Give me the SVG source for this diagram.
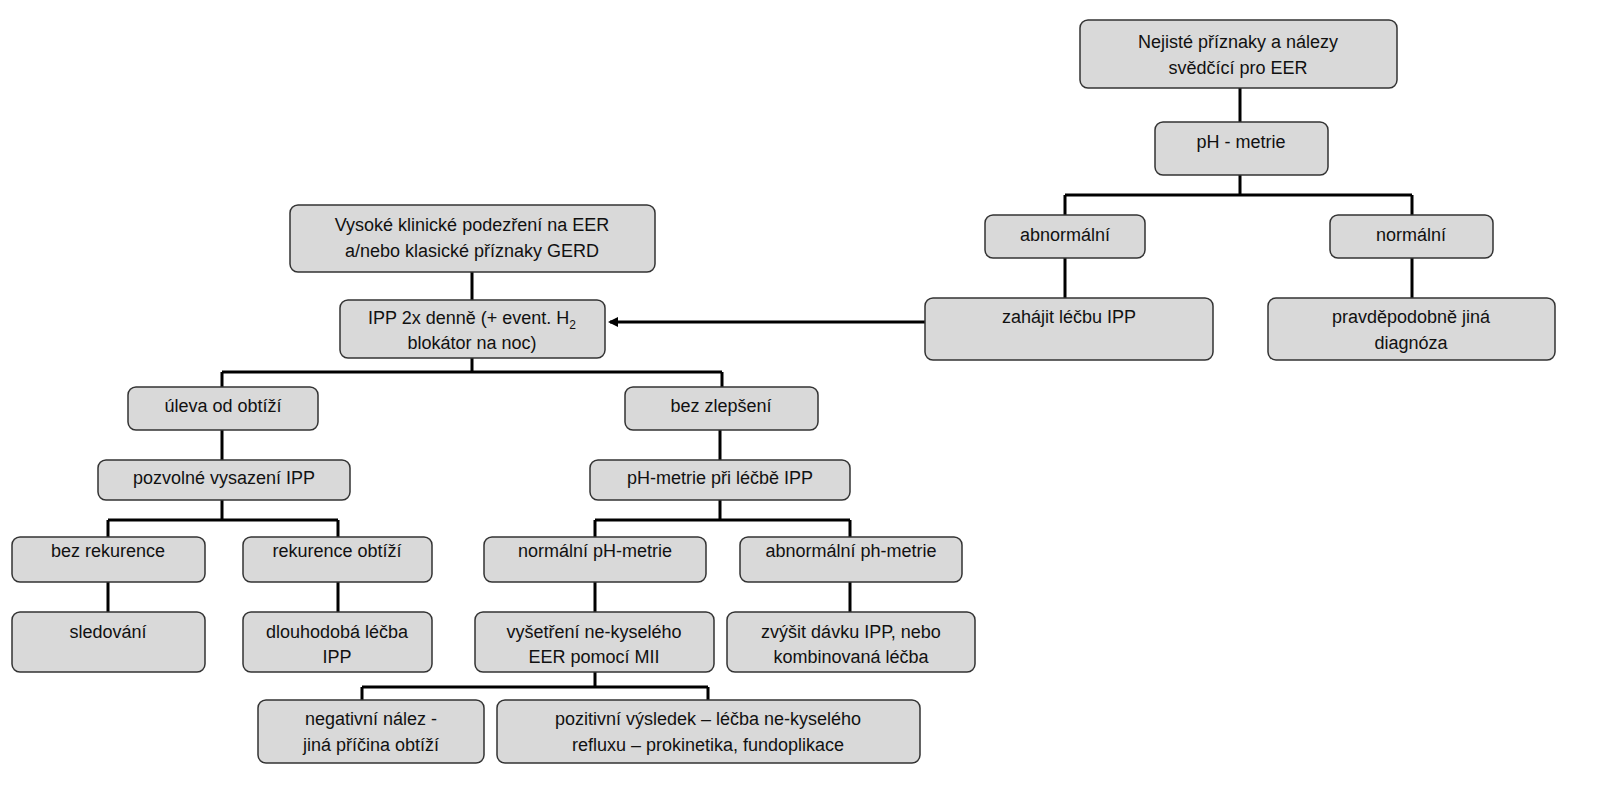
<svg xmlns="http://www.w3.org/2000/svg" width="1600" height="800" viewBox="0 0 1600 800">
<style>
.n rect{fill:#d9d9d9;stroke:#333;stroke-width:1.5}
.n text{font-family:"Liberation Sans",Arial,sans-serif;font-size:18px;fill:#111;text-anchor:middle}
.c path{fill:none;stroke:#000;stroke-width:3}
</style>
<defs><marker id="ah" markerWidth="10" markerHeight="10" refX="8" refY="5" orient="auto" markerUnits="userSpaceOnUse"><path d="M0,0 L10,5 L0,10 z" fill="#000"/></marker></defs>
<rect width="1600" height="800" fill="#fff"/>
<g class="c">
<path d="M1240,88V122M1240,175V195M1065,195H1412M1065,195V215M1412,195V215M1065,258V298M1412,258V298"/>
<path d="M925,322H610" marker-end="url(#ah)"/>
<path d="M472,272V300M472,358V372M222,372H722M222,372V387M722,372V387M222,430V460M720,430V460"/>
<path d="M222,500V520M108,520H338M108,520V537M338,520V537M720,500V520M595,520H850M595,520V537M850,520V537"/>
<path d="M108,582V612M338,582V612M595,582V612M850,582V612M595,672V687M362,687H708M362,687V700M708,687V700"/>
</g>
<g id="n1" class="n"><rect x="1080" y="20" width="317" height="68" rx="8"/><text x="1238" y="48">Nejisté příznaky a nálezy</text><text x="1238" y="74">svědčící pro EER</text></g>
<g id="n2" class="n"><rect x="1155" y="122" width="173" height="53" rx="8"/><text x="1241" y="148">pH - metrie</text></g>
<g id="n3" class="n"><rect x="985" y="215" width="160" height="43" rx="8"/><text x="1065" y="241">abnormální</text></g>
<g id="n4" class="n"><rect x="1330" y="215" width="163" height="43" rx="8"/><text x="1411" y="241">normální</text></g>
<g id="n5" class="n"><rect x="925" y="298" width="288" height="62" rx="8"/><text x="1069" y="323">zahájit léčbu IPP</text></g>
<g id="n6" class="n"><rect x="1268" y="298" width="287" height="62" rx="8"/><text x="1411" y="323">pravděpodobně jiná</text><text x="1411" y="349">diagnóza</text></g>
<g id="n7" class="n"><rect x="290" y="205" width="365" height="67" rx="8"/><text x="472" y="231">Vysoké klinické podezření na EER</text><text x="472" y="257">a/nebo klasické příznaky GERD</text></g>
<g id="n8" class="n"><rect x="340" y="300" width="265" height="58" rx="8"/><text x="472" y="324">IPP 2x denně (+ event. H<tspan font-size="12" dy="5">2</tspan></text><text x="472" y="349">blokátor na noc)</text></g>
<g id="n9" class="n"><rect x="128" y="387" width="190" height="43" rx="8"/><text x="223" y="412">úleva od obtíží</text></g>
<g id="n10" class="n"><rect x="625" y="387" width="193" height="43" rx="8"/><text x="721" y="412">bez zlepšení</text></g>
<g id="n11" class="n"><rect x="98" y="460" width="252" height="40" rx="8"/><text x="224" y="484">pozvolné vysazení IPP</text></g>
<g id="n12" class="n"><rect x="590" y="460" width="260" height="40" rx="8"/><text x="720" y="484">pH-metrie při léčbě IPP</text></g>
<g id="n13" class="n"><rect x="12" y="537" width="193" height="45" rx="8"/><text x="108" y="557">bez rekurence</text></g>
<g id="n14" class="n"><rect x="243" y="537" width="189" height="45" rx="8"/><text x="337" y="557">rekurence obtíží</text></g>
<g id="n15" class="n"><rect x="484" y="537" width="222" height="45" rx="8"/><text x="595" y="557">normální pH-metrie</text></g>
<g id="n16" class="n"><rect x="740" y="537" width="222" height="45" rx="8"/><text x="851" y="557">abnormální ph-metrie</text></g>
<g id="n17" class="n"><rect x="12" y="612" width="193" height="60" rx="8"/><text x="108" y="638">sledování</text></g>
<g id="n18" class="n"><rect x="243" y="612" width="189" height="60" rx="8"/><text x="337" y="638">dlouhodobá léčba</text><text x="337" y="663">IPP</text></g>
<g id="n19" class="n"><rect x="475" y="612" width="239" height="60" rx="8"/><text x="594" y="638">vyšetření ne-kyselého</text><text x="594" y="663">EER pomocí MII</text></g>
<g id="n20" class="n"><rect x="727" y="612" width="248" height="60" rx="8"/><text x="851" y="638">zvýšit dávku IPP, nebo</text><text x="851" y="663">kombinovaná léčba</text></g>
<g id="n21" class="n"><rect x="258" y="700" width="226" height="63" rx="8"/><text x="371" y="725">negativní nález -</text><text x="371" y="751">jiná příčina obtíží</text></g>
<g id="n22" class="n"><rect x="497" y="700" width="423" height="63" rx="8"/><text x="708" y="725">pozitivní výsledek – léčba ne-kyselého</text><text x="708" y="751">refluxu – prokinetika, fundoplikace</text></g>
</svg>
